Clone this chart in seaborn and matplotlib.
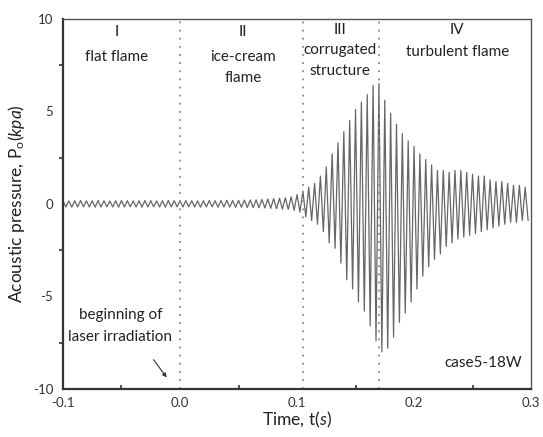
import numpy as np
import pandas as pd
import seaborn as sns
from matplotlib import pyplot as plt
from matplotlib.ticker import MultipleLocator

# Sampling of the oscillation: one upper and one lower extreme per cycle
t_start = -0.1
period = 0.005

# Upper peak of each cycle (kPa)
peak_hi = [
    0.17, 0.16, 0.17, 0.18, 0.16, 0.17, 0.18, 0.17, 0.16, 0.17,
    0.18, 0.17, 0.16, 0.17, 0.18, 0.17, 0.16, 0.17, 0.18, 0.17,
    0.17, 0.18, 0.17, 0.16, 0.17, 0.18, 0.17, 0.18, 0.19, 0.18,
    0.19, 0.20, 0.21, 0.22, 0.24, 0.26, 0.28, 0.30, 0.33, 0.38,
    0.50, 0.70, 0.90, 1.10, 1.50, 2.00, 2.70, 3.30, 3.90, 4.50,
    5.10, 5.50, 5.90, 6.40, 6.50, 5.60, 4.90, 4.30, 3.80, 3.40,
    3.10, 2.70, 2.40, 2.10, 1.80, 1.80, 1.70, 1.80, 1.80, 1.70,
    1.60, 1.50, 1.50, 1.30, 1.20, 1.20, 1.10, 1.00, 1.00, 0.90,
]

# Lower peak of each cycle (kPa)
peak_lo = [
    -0.17, -0.18, -0.17, -0.16, -0.17, -0.18, -0.17, -0.16, -0.17, -0.18,
    -0.17, -0.16, -0.17, -0.18, -0.17, -0.16, -0.17, -0.18, -0.17, -0.16,
    -0.17, -0.16, -0.17, -0.18, -0.17, -0.16, -0.18, -0.17, -0.18, -0.19,
    -0.19, -0.20, -0.20, -0.21, -0.22, -0.24, -0.26, -0.28, -0.30, -0.35,
    -0.45, -0.70, -0.90, -1.10, -1.50, -2.10, -2.40, -3.20, -4.10, -4.60,
    -5.30, -5.80, -6.60, -7.40, -8.00, -7.80, -7.20, -6.40, -5.90, -5.30,
    -4.60, -3.90, -3.40, -3.00, -2.70, -2.30, -2.10, -1.90, -1.80, -1.70,
    -1.60, -1.50, -1.40, -1.30, -1.20, -1.10, -1.00, -1.00, -0.90, -0.90,
]

# Regime boundaries (s)
boundaries = [0.0, 0.105, 0.17]

n = len(peak_hi)
t_hi = t_start + period * np.arange(n)
t_lo = t_hi + period / 2
time = np.empty(2 * n)
time[0::2] = t_hi
time[1::2] = t_lo
pressure = np.empty(2 * n)
pressure[0::2] = peak_hi
pressure[1::2] = peak_lo
df = pd.DataFrame({"time": time, "pressure": pressure})

sns.set_theme(style="white")
plt.rcParams["font.family"] = ["Lato", "DejaVu Sans"]
plt.rcParams["mathtext.fontset"] = "custom"
plt.rcParams["mathtext.it"] = "Lato:italic"
plt.rcParams["mathtext.rm"] = "Lato"

fig = plt.figure(figsize=(5.43, 4.37), dpi=100)
ax = fig.add_axes([0.116, 0.110, 0.862, 0.847])

sns.lineplot(data=df, x="time", y="pressure", ax=ax, color="#666666",
             linewidth=0.9, estimator=None, sort=False)

for xb in boundaries:
    ax.axvline(xb, color="#8a8a8a", linestyle=(0, (1, 3.5)), linewidth=1.3)

ax.set_xlim(-0.1, 0.3)
ax.set_ylim(-10, 10)
ax.xaxis.set_major_locator(MultipleLocator(0.1))
ax.xaxis.set_minor_locator(MultipleLocator(0.05))
ax.yaxis.set_major_locator(MultipleLocator(5))
ax.yaxis.set_minor_locator(MultipleLocator(2.5))
ax.set_xticks([-0.1, 0.0, 0.1, 0.2, 0.3])
ax.set_xticklabels(["-0.1", "0.0", "0.1", "0.2", "0.3"])
ax.set_yticks([-10, -5, 0, 5, 10])
ax.set_yticklabels(["-10", "-5", "0", "5", "10"])
ax.tick_params(axis="x", which="major", direction="inout", length=7,
               width=1.2, color="#333333", labelsize=9.5, labelcolor="#333333", pad=2)
ax.tick_params(axis="x", which="minor", direction="in", length=3,
               width=1.2, color="#333333", bottom=True)
ax.tick_params(axis="y", which="major", direction="out", length=5,
               width=1.2, color="#333333", labelsize=9.5, labelcolor="#333333", pad=2)
ax.tick_params(axis="y", which="minor", direction="out", length=3,
               width=1.2, color="#333333", left=True)

for side in ["left", "bottom"]:
    ax.spines[side].set_color("#333333")
    ax.spines[side].set_linewidth(1.6)
for side in ["top", "right"]:
    ax.spines[side].set_color("#555555")
    ax.spines[side].set_linewidth(1.0)

ax.set_xlabel(r"Time, t($\mathit{s}$)", fontsize=12.5, color="#222222", labelpad=1)
ax.set_ylabel(r"Acoustic pressure, P$_\mathrm{o}$($\mathit{kpa}$)", fontsize=12.5,
              color="#222222", labelpad=4)

txt = dict(ha="center", va="center", fontsize=11, color="#222222")
ax.text(-0.054, 9.3, "I", **txt)
ax.text(-0.054, 7.95, "flat flame", **txt)
ax.text(0.054, 9.3, "II", **txt)
ax.text(0.054, 7.95, "ice-cream", **txt)
ax.text(0.054, 6.8, "flame", **txt)
ax.text(0.137, 9.4, "III", **txt)
ax.text(0.137, 8.3, "corrugated", **txt)
ax.text(0.137, 7.2, "structure", **txt)
ax.text(0.237, 9.4, "IV", **txt)
ax.text(0.237, 8.2, "turbulent flame", **txt)
ax.text(-0.051, -6.0, "beginning of", **txt)
ax.text(-0.051, -7.2, "laser irradiation", **txt)
ax.text(0.292, -8.6, "case5-18W", ha="right", va="center", fontsize=11,
        color="#222222")
ax.annotate("", xy=(-0.010, -9.5), xytext=(-0.024, -8.3),
            arrowprops=dict(arrowstyle="-|>", color="#333333", lw=0.8,
                            mutation_scale=6))

fig.savefig("out.png", dpi=100)
